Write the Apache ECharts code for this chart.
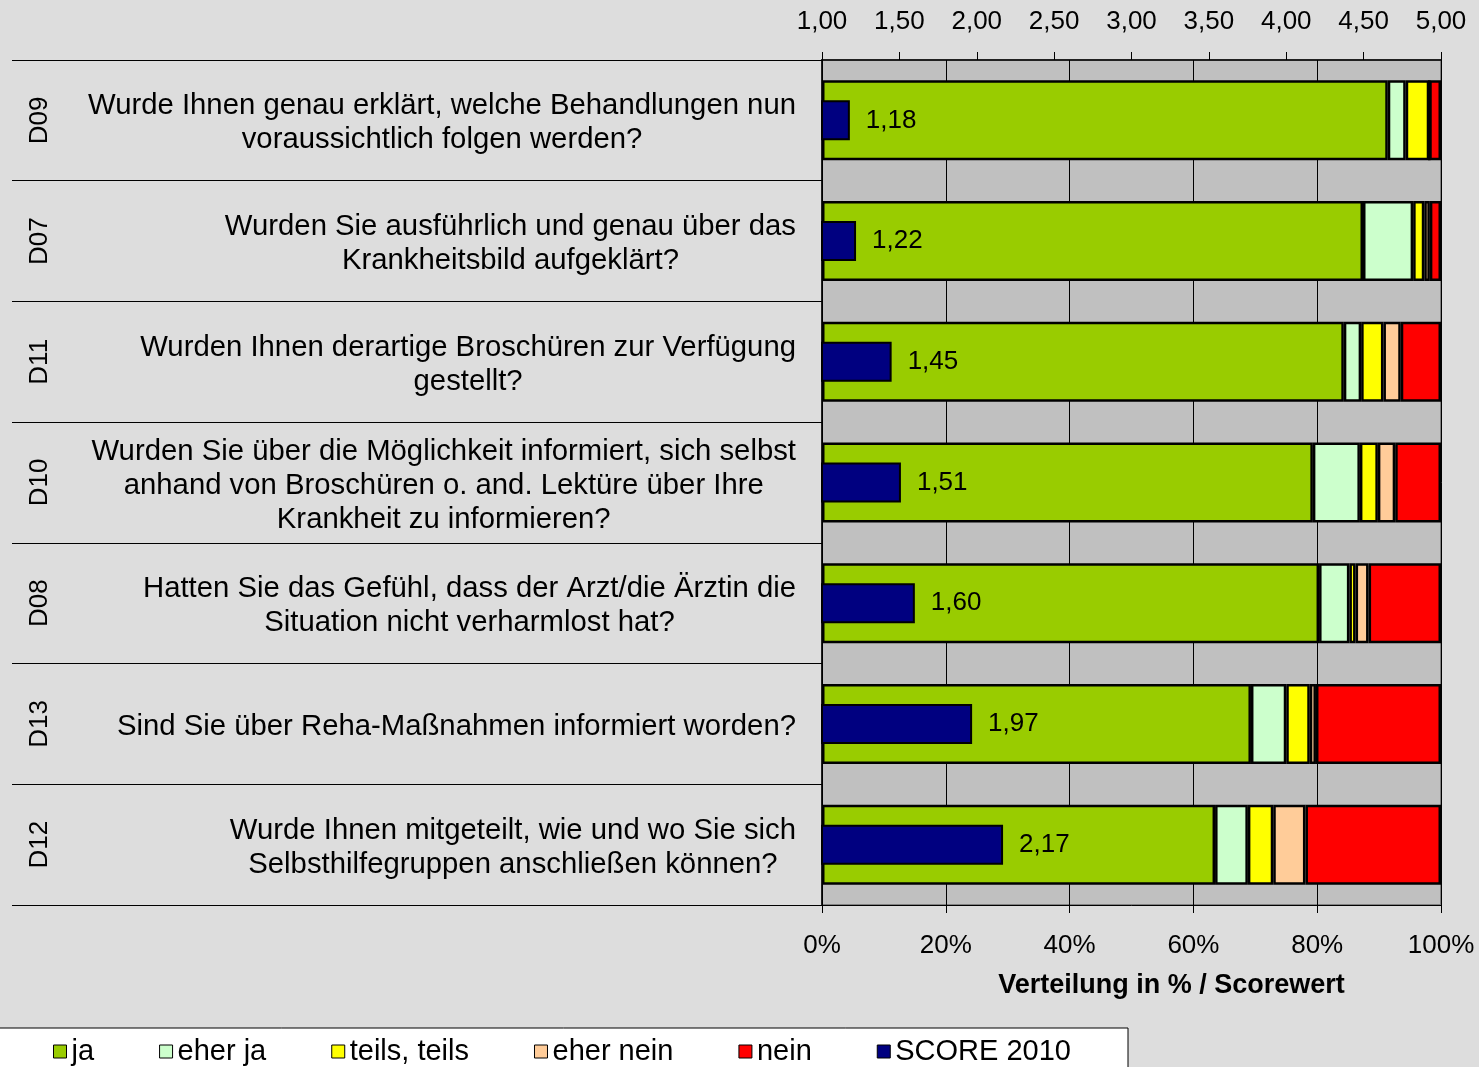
<!DOCTYPE html>
<html>
<head>
<meta charset="utf-8">
<script src="https://cdn.jsdelivr.net/npm/echarts@6/dist/echarts.min.js"></script>
<style>
  html, body { margin: 0; padding: 0; background: #dddddd; }
  #main { width: 1479px; height: 1067px; }
</style>
</head>
<body>
<div id="main"></div>
<script>
var categories = ['D09', 'D07', 'D11', 'D10', 'D08', 'D13', 'D12'];
var questions = [
    'Wurde Ihnen genau erklärt, welche Behandlungen nun\nvoraussichtlich folgen werden?',
    'Wurden Sie ausführlich und genau über das\nKrankheitsbild aufgeklärt?',
    'Wurden Ihnen derartige Broschüren zur Verfügung\ngestellt?',
    'Wurden Sie über die Möglichkeit informiert, sich selbst\nanhand von Broschüren o. and. Lektüre über Ihre\nKrankheit zu informieren?',
    'Hatten Sie das Gefühl, dass der Arzt/die Ärztin die\nSituation nicht verharmlost hat?',
    'Sind Sie über Reha-Maßnahmen informiert worden?',
    'Wurde Ihnen mitgeteilt, wie und wo Sie sich\nSelbsthilfegruppen anschließen können?'
];
// Verteilung in %
var ja       = [91.4, 87.4, 84.3, 79.3, 80.3, 69.3, 63.5];
var eherJa   = [2.9, 8.1, 2.8, 7.6, 4.9, 5.7, 5.3];
var teils    = [3.8, 1.8, 3.6, 2.9, 1.0, 3.8, 4.1];
var eherNein = [0, 0.9, 2.8, 2.8, 2.1, 1.0, 5.2];
var nein     = [1.9, 1.8, 6.5, 7.4, 11.7, 20.2, 21.9];
// Scorewert
var score2010 = [1.18, 1.22, 1.45, 1.51, 1.60, 1.97, 2.17];

var fontName = 'Liberation Sans, Arial, sans-serif';

function komma(v) {
    return Number(v).toFixed(2).replace('.', ',');
}

function stackSeries(name, data, color) {
    return {
        name: name,
        type: 'bar',
        stack: 'verteilung',
        xAxisIndex: 0,
        yAxisIndex: 0,
        barWidth: 80,
        itemStyle: { color: color, borderColor: '#000', borderWidth: 2.5 },
        data: data
    };
}

var myChart = echarts.init(document.getElementById('main'));
var option = {
    backgroundColor: '#dddddd',
    textStyle: { fontFamily: fontName },
    animation: false,
    graphic: [
        {
            type: 'rect',
            shape: { x: -1, y: 1028, width: 1129, height: 50 },
            style: { fill: '#ffffff', stroke: '#000', lineWidth: 1 }
        }
    ],
    legend: {
        left: 48,
        top: 1032,
        itemWidth: 13,
        itemHeight: 13,
        itemGap: 65,
        icon: 'rect',
        itemStyle: { borderColor: '#000', borderWidth: 1 },
        textStyle: { fontSize: 29, color: '#000', fontFamily: fontName },
        data: ['ja', 'eher ja', 'teils, teils', 'eher nein', 'nein', 'SCORE 2010']
    },
    grid: {
        left: 822,
        right: 38,
        top: 60,
        bottom: 162,
        show: true,
        backgroundColor: '#c0c0c0',
        borderColor: '#808080',
        borderWidth: 2
    },
    xAxis: [
        {
            type: 'value',
            position: 'bottom',
            min: 0,
            max: 100,
            interval: 20,
            axisLine: { show: true, lineStyle: { color: '#000', width: 1 } },
            axisTick: { show: true, length: 8, lineStyle: { color: '#000' } },
            axisLabel: {
                fontSize: 26, color: '#000', margin: 28,
                formatter: function (v) { return v + '%'; }
            },
            splitLine: { show: true, lineStyle: { color: '#000', width: 1 } },
            name: 'Verteilung in % / Scorewert',
            nameLocation: 'middle',
            nameGap: 67,
            nameTextStyle: {
                fontSize: 27, fontWeight: 'bold', color: '#000',
                padding: [0, 0, 0, 80]
            }
        },
        {
            type: 'value',
            position: 'top',
            min: 1,
            max: 5,
            interval: 0.5,
            axisLine: { show: true, lineStyle: { color: '#000', width: 1.5 } },
            axisTick: { show: true, length: 8, lineStyle: { color: '#000' } },
            axisLabel: { fontSize: 26, color: '#000', margin: 25, formatter: komma },
            splitLine: { show: false }
        }
    ],
    yAxis: [
        {
            type: 'category',
            inverse: true,
            data: categories,
            axisLine: { show: true, lineStyle: { color: '#000', width: 1.5 } },
            axisTick: { show: true, length: 810, lineStyle: { color: '#000', width: 1 } },
            axisLabel: {
                margin: 26,
                align: 'right',
                padding: [6, 0, 0, 0],
                formatter: function (v, i) {
                    return questions[i].split('\n').map(function (l) {
                        return '{c|' + l + '}';
                    }).join('\n');
                },
                rich: {
                    c: { align: 'center', fontSize: 29.3, lineHeight: 34, color: '#000', fontFamily: fontName }
                }
            },
            splitLine: { show: false }
        },
        {
            type: 'category',
            inverse: true,
            position: 'left',
            data: categories,
            axisLine: { show: false },
            axisTick: { show: false },
            axisLabel: {
                rotate: 90,
                margin: 769,
                fontSize: 26,
                color: '#000'
            },
            splitLine: { show: false }
        }
    ],
    series: [
        stackSeries('ja', ja, '#99cc00'),
        stackSeries('eher ja', eherJa, '#ccffcc'),
        stackSeries('teils, teils', teils, '#ffff00'),
        stackSeries('eher nein', eherNein, '#ffcc99'),
        stackSeries('nein', nein, '#ff0000'),
        {
            name: 'SCORE 2010',
            type: 'bar',
            xAxisIndex: 1,
            yAxisIndex: 1,
            barWidth: 40,
            z: 5,
            itemStyle: { color: '#000080', borderColor: '#000', borderWidth: 2 },
            label: {
                show: true,
                position: 'right',
                distance: 16,
                fontSize: 26,
                color: '#000',
                formatter: function (p) { return komma(p.value); }
            },
            data: score2010
        }
    ]
};
myChart.setOption(option);
</script>
</body>
</html>
